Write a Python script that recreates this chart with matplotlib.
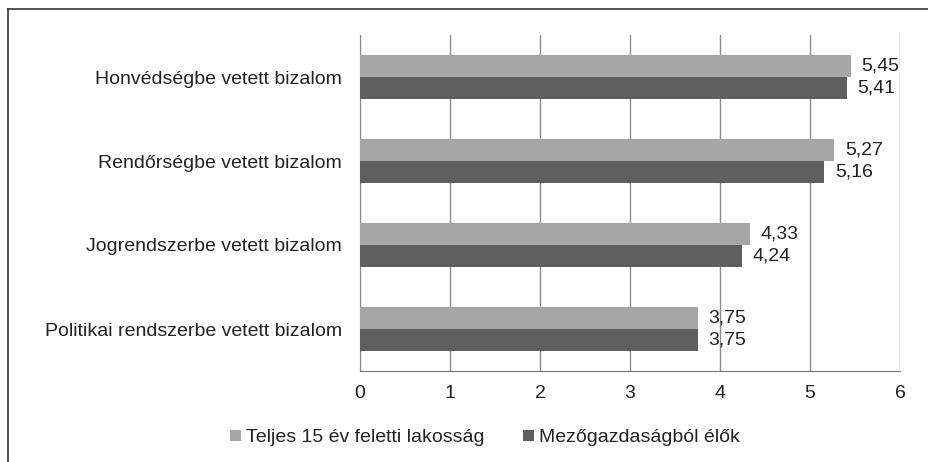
import matplotlib.pyplot as plt
from matplotlib.lines import Line2D
import numpy as np

plt.rcParams['font.family'] = ['Liberation Sans', 'DejaVu Sans']

categories = ['Politikai rendszerbe vetett bizalom',
              'Jogrendszerbe vetett bizalom',
              'Rendőrségbe vetett bizalom',
              'Honvédségbe vetett bizalom']
teljes = [3.75, 4.33, 5.27, 5.45]
mezogazd = [3.75, 4.24, 5.16, 5.41]
series_names = ['Teljes 15 év feletti lakosság', 'Mezőgazdaságból élők']
colors = ['#a6a6a6', '#5f5f5f']

W, H = 929, 462
fig = plt.figure(figsize=(W / 100, H / 100), dpi=100)
ax = fig.add_axes([360 / W, 1 - 371 / H, 540 / W, 336 / H])

y = np.arange(len(categories))
h = 0.256
ax.barh(y + h / 2, teljes, height=h, color=colors[0], label=series_names[0], zorder=3)
ax.barh(y - h / 2, mezogazd, height=h, color=colors[1], label=series_names[1], zorder=3)

def fmt(v):
    return f'{v:.2f}'.replace('.', ',')

fs = 14
for yi, a, b in zip(y, teljes, mezogazd):
    ax.text(a + 0.12, yi + h / 2, fmt(a), va='center', ha='left', fontsize=fs, color='#222222')
    ax.text(b + 0.12, yi - h / 2, fmt(b), va='center', ha='left', fontsize=fs, color='#222222')

ax.set_xlim(0, 6)
ax.set_ylim(-0.5, 3.5)
ax.set_xticks(range(7))
ax.set_yticks(y)
ax.set_yticklabels(categories)
ax.tick_params(axis='both', length=0, labelsize=fs, colors='#222222')
ax.tick_params(axis='x', pad=10)
ax.tick_params(axis='y', pad=13)
ax.grid(axis='x', color='#8c8c8c', linewidth=1, zorder=0)
for s in ['top', 'right']:
    ax.spines[s].set_visible(False)
ax.spines['bottom'].set_color('#777777')
ax.spines['left'].set_color('#8c8c8c')

ax.legend(loc='upper center', bbox_to_anchor=(125 / 540, 0), ncol=2, frameon=False,
          fontsize=fs, handlelength=0.55, handleheight=0.55, handletextpad=0.25,
          columnspacing=2.0, borderaxespad=2.6)
leg = ax.get_legend()
for t in leg.get_texts():
    t.set_color('#222222')

# outer frame (top and left edges)
fig.add_artist(Line2D([8 / W, 1], [1 - 9 / H, 1 - 9 / H], color='#333333', linewidth=1.2))
fig.add_artist(Line2D([8 / W, 8 / W], [0, 1 - 9 / H], color='#333333', linewidth=1.2))

fig.savefig('out.png', dpi=100)
